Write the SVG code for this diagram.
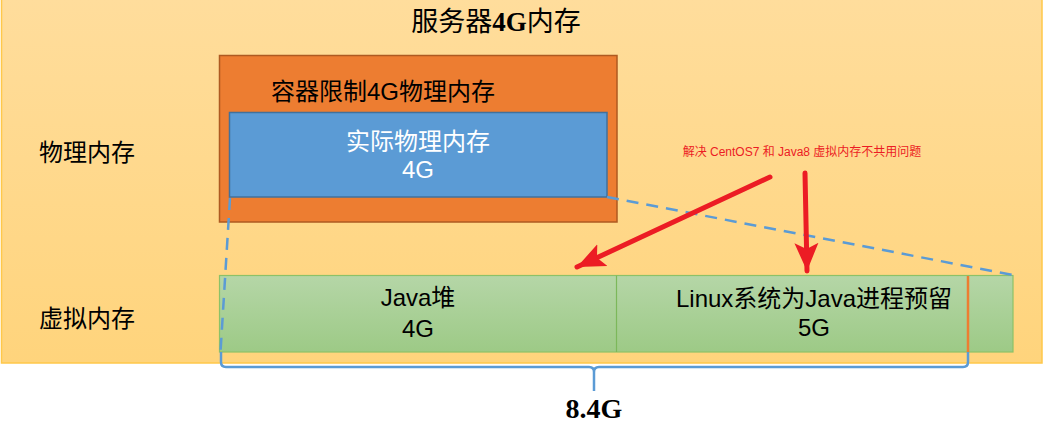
<svg xmlns="http://www.w3.org/2000/svg" width="1046" height="423" viewBox="0 0 1046 423">
<defs>
<linearGradient id="bg" x1="0" y1="0" x2="0" y2="1">
<stop offset="0" stop-color="#FFDD9C"/>
<stop offset="1" stop-color="#FFD47C"/>
</linearGradient>
<linearGradient id="gr" x1="0" y1="0" x2="0" y2="1">
<stop offset="0" stop-color="#B5D6A7"/>
<stop offset="1" stop-color="#9DCA86"/>
</linearGradient>
<marker id="ah" markerUnits="userSpaceOnUse" markerWidth="30" markerHeight="30" viewBox="0 0 30 30" refX="28" refY="15" orient="auto">
<path d="M0,3 L28,15 L0,27 L6,15 Z" fill="#EC1C24"/>
</marker>
<style>
.cjk{font-family:"Liberation Sans","Noto Sans CJK SC",sans-serif;}
.ser{font-family:"Liberation Serif","Noto Sans CJK SC",serif;}
.dash{fill:none;stroke:#5B9BD5;stroke-width:2.5;stroke-dasharray:12 8;}
.red{fill:none;stroke:#EC1C24;stroke-width:5;stroke-linecap:round;}
</style>
</defs>
<g id="server">
<rect x="1.5" y="-1" width="1040.5" height="364" fill="url(#bg)" stroke="#FFC84A" stroke-width="1.5"/>
<text class="ser" x="496" y="31" font-size="27" text-anchor="middle" fill="#000">服务器<tspan font-weight="bold">4G</tspan>内存</text>
</g>
<g id="label-physical">
<text class="cjk" x="39" y="161" font-size="24" fill="#000">物理内存</text>
</g>
<g id="label-virtual">
<text class="cjk" x="39" y="327" font-size="24" fill="#000">虚拟内存</text>
</g>
<g id="container">
<rect x="219.5" y="55.5" width="397.5" height="166.5" fill="#ED7D31" stroke="#AE5A21" stroke-width="1.5"/>
<text class="cjk" x="383" y="100" font-size="24" text-anchor="middle" fill="#000">容器限制4G物理内存</text>
</g>
<g id="physical">
<rect x="229.5" y="112.5" width="377.5" height="84.5" fill="#5B9BD5" stroke="#41719C" stroke-width="1.5"/>
<text class="cjk" x="418" y="150" font-size="24" text-anchor="middle" fill="#FFF">实际物理内存</text>
<text class="cjk" x="418" y="178" font-size="24" text-anchor="middle" fill="#FFF">4G</text>
</g>
<g id="virtual">
<rect x="219.5" y="275.5" width="793.5" height="76.5" fill="url(#gr)" stroke="#8CC168" stroke-width="1.2"/>
<line x1="616.5" y1="275.5" x2="616.5" y2="352" stroke="#7CB85A" stroke-width="1.2"/>
<line x1="968" y1="276" x2="968" y2="352" stroke="#ED7D31" stroke-width="2.5"/>
</g>
<g id="java-heap">
<text class="cjk" x="418" y="306" font-size="24" text-anchor="middle" fill="#000">Java堆</text>
<text class="cjk" x="418" y="337" font-size="24" text-anchor="middle" fill="#000">4G</text>
</g>
<g id="linux-reserve">
<text class="cjk" x="814" y="307" font-size="24" text-anchor="middle" fill="#000">Linux系统为Java进程预留</text>
<text class="cjk" x="814" y="336" font-size="24" text-anchor="middle" fill="#000">5G</text>
</g>
<g id="note">
<text class="cjk" x="802" y="156" font-size="12" text-anchor="middle" fill="#EC1C24">解决 CentOS7 和 Java8 虚拟内存不共用问题</text>
</g>
<g id="total">
<text class="ser" x="594" y="418" font-size="28" font-weight="bold" text-anchor="middle" fill="#000">8.4G</text>
</g>
<g id="connectors">
<line class="dash" x1="230" y1="198" x2="220.5" y2="352"/>
<line class="dash" x1="607" y1="197" x2="1013" y2="275"/>
<path d="M221,352 V362 Q221,367 226,367 H589 Q594,367 594,372 V391 M594,372 Q594,367 599,367 H963 Q968,367 968,362 V352" fill="none" stroke="#5B9BD5" stroke-width="2.5"/>
<line class="red" x1="770" y1="177" x2="577" y2="267" marker-end="url(#ah)"/>
<line class="red" x1="805" y1="173" x2="807" y2="271" marker-end="url(#ah)"/>
</g>
</svg>
